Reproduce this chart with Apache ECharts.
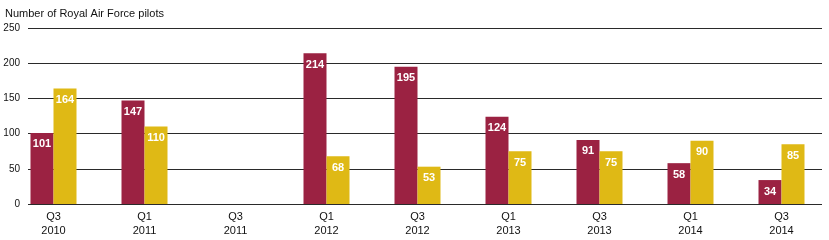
<!DOCTYPE html>
<html><head><meta charset="utf-8">
<script src="https://cdn.jsdelivr.net/npm/echarts@6/dist/echarts.min.js"></script>
<style>html,body{margin:0;padding:0;background:#fff}#c{width:829px;height:240px}</style>
</head><body><div id="c"></div>
<script>
const categories = ['Q3\n2010','Q1\n2011','Q3\n2011','Q1\n2012','Q3\n2012','Q1\n2013','Q3\n2013','Q1\n2014','Q3\n2014'];
const seriesA = [101,147,null,214,195,124,91,58,34];
const seriesB = [164,110,null,68,53,75,75,90,85];
const yTicks = [0,50,100,150,200,250];
const title = 'Number of Royal Air Force pilots';

const chart = echarts.init(document.getElementById('c'), null, {renderer:'canvas'});
const FONT = '"Liberation Sans", Arial, Helvetica, sans-serif';
const lbl = {show:true, position:'insideTop', distance:6, color:'#fff', fontSize:11, fontWeight:'bold', fontFamily:FONT};
chart.setOption({
  animation:false,
  title:{text:title, left:0, top:3, textStyle:{fontSize:11, fontWeight:'normal', color:'#111', fontFamily:FONT}},
  grid:[
    {left:28, right:7, top:28, bottom:36},
    {left:8, right:2, top:28, bottom:36}
  ],
  xAxis:[
    {type:'value', gridIndex:0, show:false, min:0, max:1},
    {type:'category', gridIndex:1, data:categories, boundaryGap:true,
     axisLine:{show:false}, axisTick:{show:false},
     axisLabel:{color:'#111', fontSize:11, fontFamily:FONT, lineHeight:14, margin:6}}
  ],
  yAxis:[
    {type:'value', gridIndex:0, min:yTicks[0], max:yTicks[yTicks.length-1], interval:50,
     axisLine:{show:false}, axisTick:{show:false},
     axisLabel:{color:'#111', fontSize:10, fontFamily:FONT, margin:8},
     splitLine:{lineStyle:{color:'#2a2a2a', width:1.2}}},
    {type:'value', gridIndex:1, min:0, max:250, interval:50, show:false, splitLine:{show:false}}
  ],
  series:[
    {type:'bar', xAxisIndex:1, yAxisIndex:1, data:seriesA, barWidth:23, barGap:'0%', itemStyle:{color:'#9B2242'}, label:lbl},
    {type:'bar', xAxisIndex:1, yAxisIndex:1, data:seriesB, barWidth:23, barGap:'0%', itemStyle:{color:'#DFB915'}, label:lbl}
  ]
});
</script></body></html>
